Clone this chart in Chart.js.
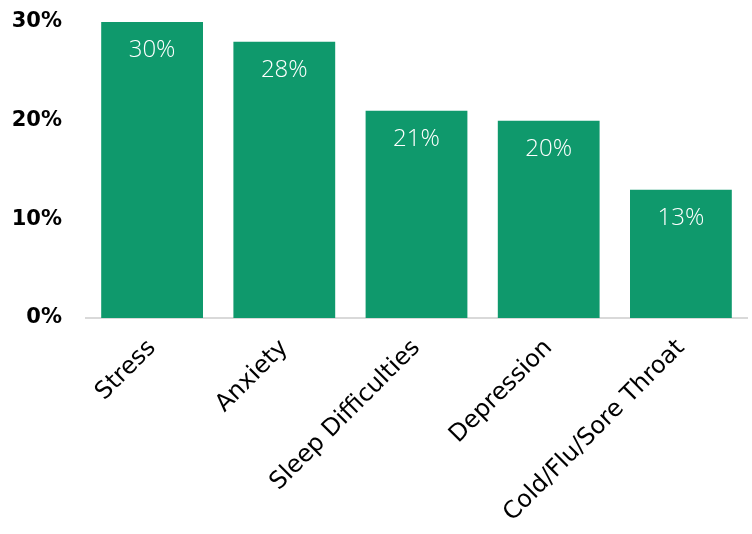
<!DOCTYPE html>
<html>
<head>
<meta charset="utf-8">
<script src="https://cdn.jsdelivr.net/npm/chart.js@4"></script>
<style>
  html, body { margin: 0; padding: 0; background: #fff; }
  #wrap { width: 752px; height: 534px; }
</style>
</head>
<body>
<div id="wrap"><canvas id="chart" width="752" height="534"></canvas></div>
<script>
const categories = ["Stress", "Anxiety", "Sleep Difficulties", "Depression", "Cold/Flu/Sore Throat"];
const shares = [30, 28, 21, 20, 13];
const yTicks = [0, 10, 20, 30];

const FONT = "'DejaVu Sans', sans-serif";
const LIGHT_FONT = "'Open Sans', 'DejaVu Sans', sans-serif";
const GREEN = "#0F996C";

// white value labels inside each bar, near its top
const barLabels = {
  id: "barLabels",
  afterDatasetsDraw(chart) {
    const ctx = chart.ctx;
    const meta = chart.getDatasetMeta(0);
    ctx.save();
    ctx.fillStyle = "#fff";
    ctx.font = "300 24px " + LIGHT_FONT;
    ctx.textAlign = "center";
    ctx.textBaseline = "middle";
    meta.data.forEach((bar, i) => {
      ctx.fillText(shares[i] + "%", bar.x, bar.y + 28);
    });
    ctx.restore();
  },
};

new Chart(document.getElementById("chart").getContext("2d"), {
  type: "bar",
  data: {
    labels: categories,
    datasets: [{
      data: shares,
      backgroundColor: GREEN,
      borderWidth: 0,
      barPercentage: 0.77,
      categoryPercentage: 1,
    }],
  },
  options: {
    responsive: false,
    animation: false,
    layout: { padding: { top: 22, right: 5, left: 12, bottom: 0 } },
    plugins: { legend: { display: false }, tooltip: { enabled: false } },
    scales: {
      x: {
        grid: { display: false, drawTicks: false },
        border: { display: true, color: "#D9D9D9", width: 2 },
        ticks: {
          color: "#000",
          font: { family: FONT, size: 24 },
          maxRotation: 45,
          minRotation: 45,
          padding: 16,
        },
        afterFit: (axis) => {
          axis.height = 216;
          axis.paddingLeft = 0;
          axis.paddingRight = 0;
        },
      },
      y: {
        min: 0,
        max: 30,
        afterBuildTicks: (axis) => { axis.ticks = yTicks.map((v) => ({ value: v })); },
        grid: { display: false, drawTicks: false },
        border: { display: false },
        ticks: {
          color: "#000",
          font: { family: FONT, size: 21, weight: "bold" },
          padding: 24,
          callback: (v) => v + "%",
        },
        afterFit: (axis) => {
          axis.width = 74;
          axis.paddingTop = 0;
          axis.paddingBottom = 0;
        },
      },
    },
  },
  plugins: [barLabels],
});
</script>
</body>
</html>
